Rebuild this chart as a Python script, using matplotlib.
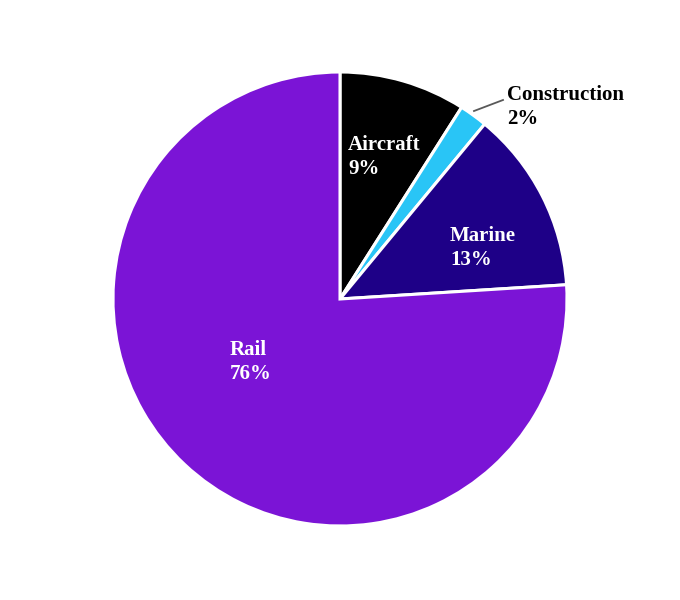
import matplotlib
matplotlib.use("Agg")
import matplotlib.pyplot as plt
import numpy as np

categories = ["Aircraft", "Construction", "Marine", "Rail"]
values = [9, 2, 13, 76]
colors = ["#000000", "#29C5F6", "#1E0087", "#7B14D6"]

W, H = 680, 600
fig = plt.figure(figsize=(6.8, 6.0), dpi=100)
ax = fig.add_axes([0, 0, 1, 1])

cx, cy, R = 340, H - 299, 227
wedges, _ = ax.pie(values, colors=colors, startangle=90, counterclock=False,
                   center=(cx, cy), radius=R, frame=True,
                   wedgeprops=dict(edgecolor="white", linewidth=2.2))
ax.set_xlim(0, W)
ax.set_ylim(0, H)
ax.set_aspect("equal")
ax.axis("off")

font = dict(family=["Liberation Serif", "DejaVu Serif"], fontweight="bold", fontsize=15)

# label positions (pixel layout, top-left origin)
label_pos = {
    "Aircraft": (348, 157, "white"),
    "Marine": (450, 248, "white"),
    "Rail": (230, 362, "white"),
    "Construction": (507, 107, "black"),
}
for cat, val in zip(categories, values):
    x, y, c = label_pos[cat]
    ax.text(x, H - y, f"{cat}\n{val}%", ha="left", va="center", color=c,
            linespacing=1.3, **font)

# leader line for Construction
ax.plot([474, 503], [H - 111, H - 100], color="#595959", lw=1.3)

fig.savefig("out.png", dpi=100, facecolor="white")
